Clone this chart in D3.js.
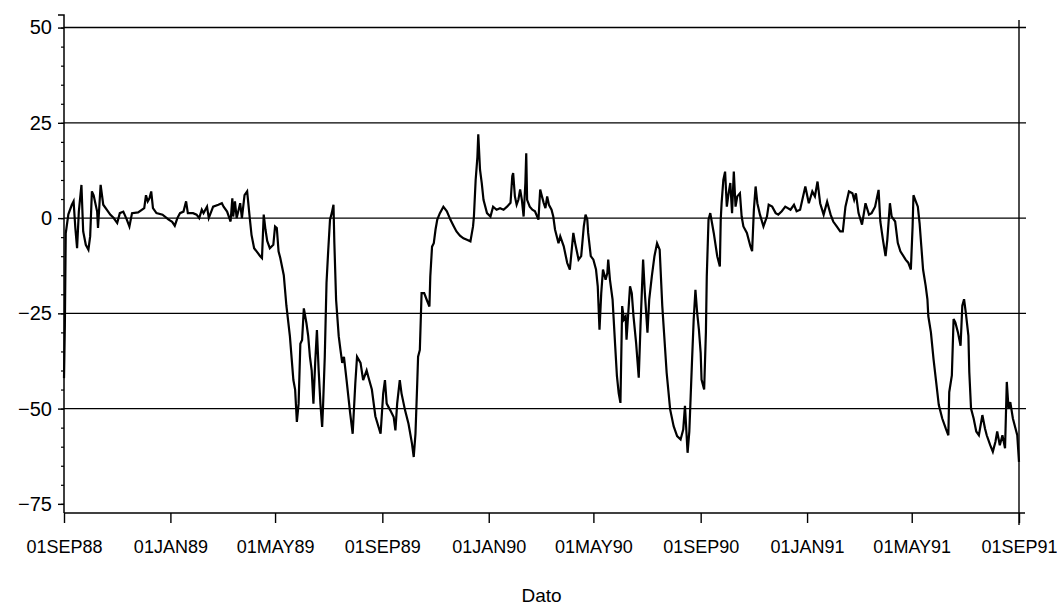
<!DOCTYPE html>
<html>
<head>
<meta charset="utf-8">
<script src="https://cdn.jsdelivr.net/npm/d3@7"></script>
<style>
  html, body { margin: 0; padding: 0; background: #fff; }
  svg { display: block; }
  text { font-family: "Liberation Sans", Arial, sans-serif; fill: #000; }
</style>
</head>
<body>
<svg id="chart" width="1057" height="608"></svg>
<script>
// ---------------- data ----------------
const startDate = "1988-09-01";
const endDate = "1991-09-01";
// [days since 01SEP88, value]
const observations = [
[0,-42],[1,-28],[2,-4],[5,1],[9,3.5],[11,4.4],[13,-2.6],[15,-7.9],[17,1.7],[20,8.7],[22,-3.5],[25,-7],[28,-8.3],[30,-4.8],[32,7],[34,6],[38,1.7],[39,-2.6],[42,8.7],[45,3.5],[49,2.2],[53,0.9],[57,0],[61,-1.3],[64,1.3],[68,1.7],[72,-0.4],[75,-2.2],[78,1.3],[85,1.5],[92,2.6],[94,6],[96,4.4],[98,5.2],[100,7],[102,2.6],[106,1.3],[113,0.9],[120,-0.4],[124,-1],[127,-2],[130,0],[133,1.3],[137,1.7],[140,4.4],[142,1.3],[148,1.3],[152,0.9],[155,0],[158,2.2],[160,1.3],[164,3],[166,0],[171,3],[177,3.5],[181,3.9],[183,3],[187,1.7],[191,-0.9],[193,5.2],[194,0.4],[196,4.4],[198,0],[202,3.9],[204,0],[207,6],[210,7],[213,0],[215,-4.4],[218,-7.9],[225,-10],[227,-10.5],[229,0.9],[231,-3],[233,-6],[236,-7.9],[240,-7],[242,-2.2],[244,-2.6],[246,-8.7],[248,-10.5],
[252,-15],[255,-23],[259,-31],[263,-42.5],[265,-45],[267,-53.5],[269,-48.7],[271,-33],[273,-32],[275,-23.7],[278,-27.6],[280,-31],[282,-36.4],[284,-40],[286,-48.7],[288,-38],[290,-29.4],[292,-40],[294,-48.7],[296,-54.8],[297,-49.5],[299,-36.4],[301,-17],[303,-8.3],[305,-0.4],[307,1.3],[309,3.5],[310,-6.6],[312,-21.5],[315,-31],[317,-34.6],[319,-38],[321,-36.4],[324,-42.5],[328,-51],[331,-56.6],[334,-43.4],[336,-36.4],[340,-38],[343,-42.5],[347,-40],[349,-41.7],[353,-45],[357,-52],[363,-56.6],[366,-46],[368,-42.5],[370,-48.7],[374,-50.4],[378,-52.2],[380,-55.7],[382,-48.7],[385,-42.5],[387,-46],[391,-50.4],[395,-54],[399,-59.2],[401,-62.7],[403,-56.6],[405,-43.4],[406,-36.4],[408,-34.6],[410,-19.7],[413,-19.7],[416,-21.5],[419,-23.2],[420,-15.3],[422,-7.5],[424,-6.6],[426,-3],[428,-0.4],[431,1.3],[435,3],[439,1.8],[443,-0.4],[447,-2.2],[450,-3.5],[454,-4.6],[458,-5.3],[462,-5.7],[466,-6.1],[469,-2.2],[470,0.4],[472,10],[474,16],[475,22],[477,12.7],[479,9.2],[481,4.8],[485,1.3],[489,0.4],[492,3],[496,2.2],[500,2.6],[504,2.2],[508,3],[512,4],[514,11],[515,11.8],[517,5.7],[519,3.5],[521,4.8],[523,7.5],[525,4.8],[527,0.4],[529,9.2],[530,17],[531,4.8],[534,3],[537,2.2],[540,1.8],[544,-0.4],[546,7.5],[548,5.7],[550,4],[552,2.6],[554,5.7],[556,3.5],[559,2.2],[561,0.4],[563,-3],[567,-6.6],
[569,-4.8],[573,-7.4],[577,-11.8],[580,-13.5],[584,-3.9],[586,-6.5],[590,-10.9],[593,-10],[596,-2.2],[598,0.9],[600,-0.4],[601,-3.9],[604,-10],[607,-10.9],[610,-13.5],[612,-17.9],[614,-29.3],[616,-19.7],[618,-13.5],[621,-16.2],[623,-14.4],[624,-10.9],[626,-16.2],[629,-21.4],[632,-33.6],[634,-41.5],[636,-45.9],[638,-48.5],[640,-23.1],[642,-26.6],[644,-25.8],[645,-31.9],[649,-17.9],[651,-19.7],[653,-25.8],[656,-32.8],[659,-41.9],[661,-28.4],[664,-10.9],[666,-19.7],[669,-30.1],[671,-21.4],[674,-15.3],[677,-10],[680,-6.6],[683,-8.3],[686,-23.1],[688,-30.1],[691,-40.6],[695,-50.2],[699,-54.6],[703,-57.2],[707,-58.1],[710,-55.5],[712,-49.3],[715,-61.6],[717,-56],[720,-38],[722,-26.6],[724,-18.8],[726,-24.9],[728,-29.3],[730,-35.4],[731,-42.4],[734,-45],[736,-30],[737,-15.3],[739,-0.4],[741,1.3],[743,-1.3],[745,-3.9],[749,-10],[752,-12.7],[753,-0.4],[754,3.9],[756,10],[758,12.2],[760,3],[762,6.5],[764,9.2],[766,1.3],[768,12.2],[770,3],[772,5.7],[775,6.5],[777,0.4],[779,-2.2],[783,-3.9],[787,-7.4],[789,-8.7],[791,2.2],[793,8.3],[795,3.9],[798,0.9],[802,-2.2],[806,0.4],[808,3.5],[812,3],[816,1.3],[819,0.9],[823,1.8],[827,3],[833,2.2],[837,3.5],[840,1.8],[844,2.2],
[850,8.3],[854,3.9],[858,7],[861,5.7],[864,9.6],[867,3.9],[871,0.9],[875,4.3],[879,0.9],[882,-0.9],[886,-2.2],[890,-3.5],[893,-3.5],[896,3],[900,7],[904,6.5],[906,4.8],[908,6.5],[911,1.3],[915,-1.7],[919,3.9],[923,0.9],[926,1.3],[930,3],[934,7.4],[936,-0.9],[939,-5.7],[942,-10],[944,-5.7],[947,3.9],[949,0.4],[953,-0.9],[956,-6.5],[959,-8.7],[965,-10.9],[968,-11.7],[971,-13.5],[973,-2.2],[974,6],[976,4.8],[979,3],[981,-1.3],[983,-7.4],[985,-13.5],[988,-17.8],[990,-21.3],[991,-25.7],[994,-30],[997,-37],[1000,-43],[1003,-49],[1007,-52.6],[1011,-55.2],[1014,-57],[1015,-45.7],[1018,-41.3],[1020,-26.5],[1022,-27.4],[1025,-30],[1028,-33.5],[1030,-23],[1032,-21.3],[1034,-24.8],[1037,-30.9],[1038,-40.4],[1040,-50],[1043,-52.6],[1046,-56],[1049,-57],[1053,-51.7],[1056,-55.2],[1058,-57],[1062,-59.6],[1065,-61.3],[1068,-58.7],[1070,-56],[1073,-59.6],[1076,-57],[1079,-60.4],[1081,-43],[1083,-50],[1085,-48.3],[1088,-52.6],[1091,-55.2],[1093,-57],[1095,-64]
];
const xTickDates = ["1988-09-01","1989-01-01","1989-05-01","1989-09-01","1990-01-01","1990-05-01","1990-09-01","1991-01-01","1991-05-01","1991-09-01"];
const xTickLabels = ["01SEP88","01JAN89","01MAY89","01SEP89","01JAN90","01MAY90","01SEP90","01JAN91","01MAY91","01SEP91"];
const yTicks = [50, 25, 0, -25, -50, -75];
const gridValues = [50, 25, 0, -25, -50];
const yMinorTicks = d3.range(-75, 51, 5);
const xTitle = "Dato";

// ---------------- layout ----------------
const svg = d3.select("#chart");
const pL = 64, pR = 1019, pT = 15, pB = 513;
const parse = d3.utcParse("%Y-%m-%d");
const t0 = parse(startDate);

const x = d3.scaleUtc().domain([t0, parse(endDate)]).range([pL, pR]);
const y = d3.scaleLinear().domain([-77.4, 53.3]).range([pB, pT]);

// gridlines
svg.append("g").selectAll("line").data(gridValues).join("line")
  .attr("x1", pL).attr("x2", pR + 7)
  .attr("y1", d => y(d)).attr("y2", d => y(d))
  .attr("stroke", "#000").attr("stroke-width", 1.4);

// right border
svg.append("line")
  .attr("x1", pR).attr("x2", pR).attr("y1", pT + 5).attr("y2", pB + 12)
  .attr("stroke", "#000").attr("stroke-width", 1.4);

// y axis
const yAxis = d3.axisLeft(y).tickValues(yTicks).tickSize(6).tickPadding(6)
  .tickFormat(d => d < 0 ? "\u2212" + Math.abs(d) : String(d));
const gy = svg.append("g").attr("transform", `translate(${pL},0)`).call(yAxis);
gy.select(".domain").attr("d", `M-6,${pT}H0V${pB}`).attr("stroke", "#000").attr("stroke-width", 1.5);
gy.selectAll(".tick line").attr("stroke", "#000").attr("stroke-width", 1.4);
gy.selectAll(".tick text").style("font-size", "20px").attr("font-family", "Liberation Sans, Arial, sans-serif");

// minor y ticks
const yMinor = d3.axisLeft(y).tickValues(yMinorTicks).tickSize(3).tickFormat("");
const gym = svg.append("g").attr("transform", `translate(${pL},0)`).call(yMinor);
gym.select(".domain").remove();
gym.selectAll(".tick line").attr("stroke", "#000").attr("stroke-width", 1.2);

// x axis
const xAxis = d3.axisBottom(x).tickValues(xTickDates.map(parse)).tickSize(10).tickPadding(17)
  .tickFormat((d, i) => xTickLabels[i]);
const gx = svg.append("g").attr("transform", `translate(0,${pB})`).call(xAxis);
gx.select(".domain").attr("d", `M${pL},0H${pR + 6}`).attr("stroke", "#000").attr("stroke-width", 1.5);
gx.selectAll(".tick line").attr("stroke", "#000").attr("stroke-width", 1.4);
gx.selectAll(".tick text").style("font-size", "18px").attr("font-family", "Liberation Sans, Arial, sans-serif");

// x title
svg.append("text")
  .attr("x", (pL + pR) / 2).attr("y", 602)
  .attr("text-anchor", "middle").style("font-size", "19px")
  .text(xTitle);

// series line
const line = d3.line()
  .x(d => x(d3.utcDay.offset(t0, d[0])))
  .y(d => y(d[1]));
svg.append("path")
  .datum(observations)
  .attr("d", line)
  .attr("fill", "none")
  .attr("stroke", "#000")
  .attr("stroke-width", 2.2)
  .attr("stroke-linejoin", "miter");
</script>
</body>
</html>
